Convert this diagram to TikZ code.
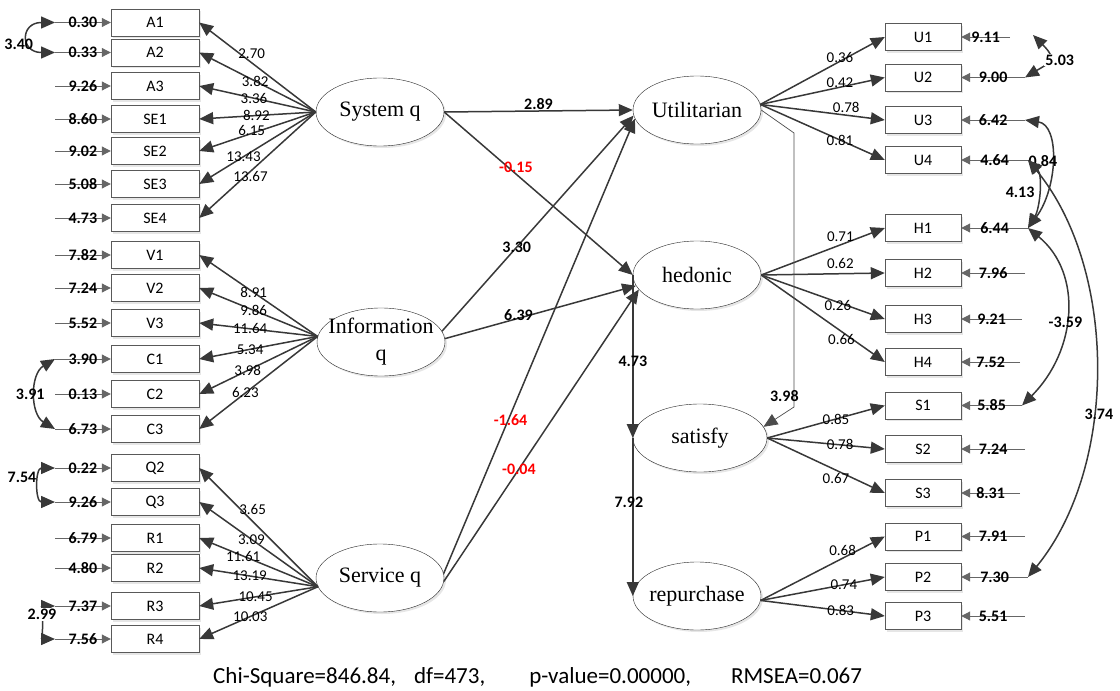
\documentclass[tikz,border=0pt]{standalone}
\usepackage{fontspec}
\setmainfont{Carlito}
\newfontfamily\lvfont{Liberation Serif}
\usetikzlibrary{arrows.meta,%
                shapes,positioning,shadows}

\tikzset{
  ind/.style={draw=black!65, fill=white, minimum width=88pt, minimum height=27pt, inner sep=0pt,
    font=\fontsize{16}{16}\selectfont, drop shadow={shadow xshift=2pt, shadow yshift=-2pt, opacity=.2}},
  indr/.style={ind, minimum width=76pt},
  lat/.style={ellipse, draw=black!85, fill=white, minimum width=128pt, minimum height=68pt, inner sep=0pt,
    align=center, font=\lvfont\fontsize{22}{27}\selectfont, drop shadow={shadow xshift=2pt, shadow yshift=-2pt, opacity=.2}},
  pth/.style={draw=black!78, line width=1.5pt, -{Triangle[length=14pt,width=12pt]}},
  thn/.style={draw=black!70, line width=.7pt, -{Triangle[length=14pt,width=12pt]}},
  err/.style={draw=black!60, line width=1pt, -{Triangle[length=9pt,width=9pt]}},
  cov/.style={draw=black!78, line width=1.5pt, {Triangle[length=14pt,width=12pt]}-{Triangle[length=14pt,width=12pt]}},
  lab/.style={font=\fontsize{15}{15}\selectfont, inner sep=1pt},
  blab/.style={font=\bfseries\fontsize{16}{16}\selectfont, inner sep=1pt},
  rlab/.style={blab, text=red}
}

\begin{document}
\begin{tikzpicture}[x=1pt,y=-1pt]
\useasboundingbox (0,0) rectangle (1120,691);

\node[ind] (a1) at (155,22.5) {A1};
\node[ind] (a2) at (155,52.5) {A2};
\node[ind] (a3) at (155,86) {A3};
\node[ind] (se1) at (155,119) {SE1};
\node[ind] (se2) at (155,151) {SE2};
\node[ind] (se3) at (155,184) {SE3};
\node[ind] (se4) at (155,218) {SE4};
\node[ind] (v1) at (155,255) {V1};
\node[ind] (v2) at (155,288) {V2};
\node[ind] (v3) at (155,323) {V3};
\node[ind] (c1) at (155,359) {C1};
\node[ind] (c2) at (155,394) {C2};
\node[ind] (c3) at (155,429) {C3};
\node[ind] (q2) at (155,468) {Q2};
\node[ind] (q3) at (155,502) {Q3};
\node[ind] (r1) at (155,538) {R1};
\node[ind] (r2) at (155,568) {R2};
\node[ind] (r3) at (155,606) {R3};
\node[ind] (r4) at (155,639) {R4};

\node[indr] (u1) at (923,37) {U1};
\node[indr] (u2) at (923,77.5) {U2};
\node[indr] (u3) at (923,120) {U3};
\node[indr] (u4) at (923,160) {U4};
\node[indr] (h1) at (923,228) {H1};
\node[indr] (h2) at (923,273) {H2};
\node[indr] (h3) at (923,319) {H3};
\node[indr] (h4) at (923,362) {H4};
\node[indr] (s1) at (923,405.5) {S1};
\node[indr] (s2) at (923,449) {S2};
\node[indr] (s3) at (923,493) {S3};
\node[indr] (p1) at (923,536.5) {P1};
\node[indr] (p2) at (923,577) {P2};
\node[indr] (p3) at (923,616) {P3};

\node[lat] (sys) at (380,112) {\makebox[0pt]{System q}};
\node[lat] (info) at (381,342) {\makebox[0pt]{Information}\\\makebox[0pt]{q}};
\node[lat] (serv) at (380,578) {\makebox[0pt]{Service q}};
\node[lat] (util) at (697,110) {\makebox[0pt]{Utilitarian}};
\node[lat] (hed) at (697,275) {\makebox[0pt]{hedonic}};
\node[lat, minimum width=134pt] (sat) at (700,438) {\makebox[0pt]{satisfy}};
\node[lat] (rep) at (697,596) {\makebox[0pt]{repurchase}};

\coordinate (ea1) at (55,22.5);
\coordinate (ea2) at (55,52.5);
\coordinate (ea3) at (55,86);
\coordinate (ese1) at (55,119);
\coordinate (ese2) at (55,151);
\coordinate (ese3) at (55,184);
\coordinate (ese4) at (55,218);
\coordinate (ev1) at (55,255);
\coordinate (ev2) at (55,288);
\coordinate (ev3) at (55,323);
\coordinate (ec1) at (55,359);
\coordinate (ec2) at (55,394);
\coordinate (ec3) at (55,429);
\coordinate (eq2) at (55,468);
\coordinate (eq3) at (55,502);
\coordinate (er1) at (55,538);
\coordinate (er2) at (55,568);
\coordinate (er3) at (55,606);
\coordinate (er4) at (55,639);

\coordinate (eu1) at (1010,37);
\coordinate (cu1) at (1033,35);
\coordinate (eu2) at (1025,77.5);
\coordinate (eu3) at (1025,120);
\coordinate (eu4) at (1028,160);
\coordinate (eh1) at (1028,228);
\coordinate (eh2) at (1025,273);
\coordinate (eh3) at (1022,319);
\coordinate (eh4) at (1020,362);
\coordinate (es1) at (1022,405.5);
\coordinate (es2) at (1025,449);
\coordinate (es3) at (1020,493);
\coordinate (ep1) at (1025,536.5);
\coordinate (ep2) at (1028,577);
\coordinate (ep3) at (1025,616);

\coordinate (k1) at (794,133);
\coordinate (k2) at (794,407);

\draw[err] (ea1) -- (a1.west) node[blab, midway] {0.30};
\draw[err] (ea2) -- (a2.west) node[blab, midway] {0.33};
\draw[err] (ea3) -- (a3.west) node[blab, midway] {9.26};
\draw[err] (ese1) -- (se1.west) node[blab, midway] {8.60};
\draw[err] (ese2) -- (se2.west) node[blab, midway] {9.02};
\draw[err] (ese3) -- (se3.west) node[blab, midway] {5.08};
\draw[err] (ese4) -- (se4.west) node[blab, midway] {4.73};
\draw[err] (ev1) -- (v1.west) node[blab, midway] {7.82};
\draw[err] (ev2) -- (v2.west) node[blab, midway] {7.24};
\draw[err] (ev3) -- (v3.west) node[blab, midway] {5.52};
\draw[err] (ec1) -- (c1.west) node[blab, midway] {3.90};
\draw[err] (ec2) -- (c2.west) node[blab, midway] {0.13};
\draw[err] (ec3) -- (c3.west) node[blab, midway] {6.73};
\draw[err] (eq2) -- (q2.west) node[blab, midway] {0.22};
\draw[err] (eq3) -- (q3.west) node[blab, midway] {9.26};
\draw[err] (er1) -- (r1.west) node[blab, midway] {6.79};
\draw[err] (er2) -- (r2.west) node[blab, midway] {4.80};
\draw[err] (er3) -- (r3.west) node[blab, midway] {7.37};
\draw[err] (er4) -- (r4.west) node[blab, midway] {7.56};

\draw[err] (eu1) -- (u1.east) node[blab, midway] {9.11};
\draw[err] (eu2) -- (u2.east) node[blab, midway] {9.00};
\draw[err] (eu3) -- (u3.east) node[blab, midway] {6.42};
\draw[err] (eu4) -- (u4.east) node[blab, midway] {4.64};
\draw[err] (eh1) -- (h1.east) node[blab, midway] {6.44};
\draw[err] (eh2) -- (h2.east) node[blab, midway] {7.96};
\draw[err] (eh3) -- (h3.east) node[blab, midway] {9.21};
\draw[err] (eh4) -- (h4.east) node[blab, midway] {7.52};
\draw[err] (es1) -- (s1.east) node[blab, midway] {5.85};
\draw[err] (es2) -- (s2.east) node[blab, midway] {7.24};
\draw[err] (es3) -- (s3.east) node[blab, midway] {8.31};
\draw[err] (ep1) -- (p1.east) node[blab, midway] {7.91};
\draw[err] (ep2) -- (p2.east) node[blab, midway] {7.30};
\draw[err] (ep3) -- (p3.east) node[blab, midway] {5.51};

\draw[pth] (sys.west) -- (a1.east) node[lab, pos=.55, yshift=9pt] {2.70};
\draw[pth] (sys.west) -- (a2.east) node[lab, pos=.52] {3.82};
\draw[pth] (sys.west) -- (a3.east) node[lab, pos=.53] {3.36};
\draw[pth] (sys.west) -- (se1.east) node[lab, pos=.51] {8.92};
\draw[pth] (sys.west) -- (se2.east) node[lab, pos=.55, yshift=3pt] {6.15};
\draw[pth] (sys.west) -- (se3.east) node[lab, pos=.62] {13.43};
\draw[pth] (sys.west) -- (se4.east) node[lab, pos=.56, yshift=-5pt] {13.67};

\draw[pth] (info.175) -- (v1.east) node[lab, pos=.54] {8.91};
\draw[pth] (info.175) -- (v2.east) node[lab, pos=.54] {9.86};
\draw[pth] (info.175) -- (v3.east) node[lab, pos=.57] {11.64};
\draw[pth] (info.175) -- (c1.east) node[lab, pos=.57] {5.34};
\draw[pth] (info.175) -- (c2.east) node[lab, pos=.59] {3.98};
\draw[pth] (info.175) -- (c3.east) node[lab, pos=.61] {6.23};

\draw[pth] (serv.188) -- (q2.east) node[lab, pos=.55, yshift=12pt] {3.65};
\draw[pth] (serv.188) -- (q3.east) node[lab, pos=.56] {3.09};
\draw[pth] (serv.188) -- (r1.east) node[lab, pos=.63] {11.61};
\draw[pth] (serv.188) -- (r2.east) node[lab, pos=.575] {13.19};
\draw[pth] (serv.188) -- (r3.east) node[lab, pos=.525] {10.45};
\draw[pth] (serv.188) -- (r4.east) node[lab, pos=.57] {10.03};

\draw[pth] (util.5) -- (u1.west) node[lab, pos=.64, yshift=4pt] {0.36};
\draw[pth] (util.5) -- (u2.west) node[lab, pos=.64, yshift=5pt] {0.42};
\draw[pth] (util.5) -- (u3.west) node[lab, pos=.69, yshift=8pt] {0.78};
\draw[pth] (util.5) -- (u4.west) node[lab, pos=.64] {0.81};

\draw[pth] (hed.east) -- (h1.west) node[lab, pos=.64, yshift=8pt] {0.71};
\draw[pth] (hed.east) -- (h2.west) node[lab, pos=.64, yshift=10pt] {0.62};
\draw[pth] (hed.east) -- (h3.west) node[lab, pos=.62, yshift=-3pt] {0.26};
\draw[pth] (hed.east) -- (h4.west) node[lab, pos=.65, yshift=-8pt] {0.66};

\draw[pth] (sat.east) -- (s1.west) node[lab, pos=.585] {0.85};
\draw[pth] (sat.east) -- (s2.west) node[lab, pos=.62] {0.78};
\draw[pth] (sat.east) -- (s3.west) node[lab, pos=.585, yshift=-8pt] {0.67};

\draw[pth] (rep.-4) -- (p1.west) node[lab, pos=.66, yshift=8pt] {0.68};
\draw[pth] (rep.-4) -- (p2.west) node[lab, pos=.67] {0.74};
\draw[pth] (rep.-4) -- (p3.west) node[lab, pos=.645] {0.83};

\draw[pth] (sys.east) -- (util.west) node[blab, midway, above] {2.89};
\draw[pth] (sys.east) -- (hed.west) node[rlab, pos=.38, yshift=7pt] {-0.15};
\draw[pth] (info.10) -- (util.185) node[blab, pos=.39] {3.30};
\draw[pth] (info.3) -- (hed.190) node[blab, pos=.385, yshift=3pt] {6.39};
\draw[pth] (serv.4) -- (util.188) node[rlab, pos=.35, yshift=-6pt] {-1.64};
\draw[pth] (serv.-3) -- (hed.194) node[rlab, pos=.385] {-0.04};
\draw[pth] (hed.west) -- (sat.west) node[blab, pos=.53] {4.73};
\draw[pth] (sat.west) -- (rep.west) node[blab, pos=.41, xshift=-4pt] {7.92};
\draw[thn] (util.east) -- (k1) -- (k2) node[blab, anchor=south east, xshift=6pt, yshift=4pt] {3.98} -- (sat.10);

\draw[cov] (ea1) .. controls +(-35,0) and +(-35,0) .. (ea2) node[blab, midway, xshift=-10pt, yshift=-7pt] {3.40};
\draw[cov] (ec1) .. controls +(-25,15) and +(-25,-15) .. (ec3) node[blab, midway, xshift=-6pt] {3.91};
\draw[cov] (eq2) .. controls +(-20,0) and +(-20,0) .. (eq3) node[blab, midway, left=2pt, yshift=8pt] {7.54};
\draw[cov] (er3) .. controls +(-12,0) and +(-12,0) .. (er4) node[blab, midway, fill=white, xshift=-4pt, yshift=8pt] {2.99};

\draw[cov] (cu1) .. controls +(25,25) and +(25,-15) .. (eu2) node[blab, midway, fill=white, xshift=12pt] {5.03};
\draw[cov] (eu3) .. controls +(35,5) and +(30,-40) .. (eh1) node[blab, midway, xshift=-8pt] {0.84};
\draw[cov] (eu4) .. controls +(15,15) and +(12,-20) .. (eh1) node[blab, midway, left=2pt] {4.13};
\draw[cov] (eu4) .. controls +(90,110) and +(90,-110) .. (ep2) node[blab, pos=.6, xshift=6pt] {3.74};
\draw[cov] (eh1) .. controls +(55,45) and +(55,-55) .. (es1) node[blab, pos=.55] {-3.59};

\node[anchor=west, font=\fontsize{23}{23}\selectfont, inner sep=0pt] (fitline) at (213,677)
  {Chi-Square=846.84,\hspace{18pt}df=473,\hspace{44pt}p-value=0.00000,\hspace{40pt}RMSEA=0.067};
\end{tikzpicture}
\end{document}
